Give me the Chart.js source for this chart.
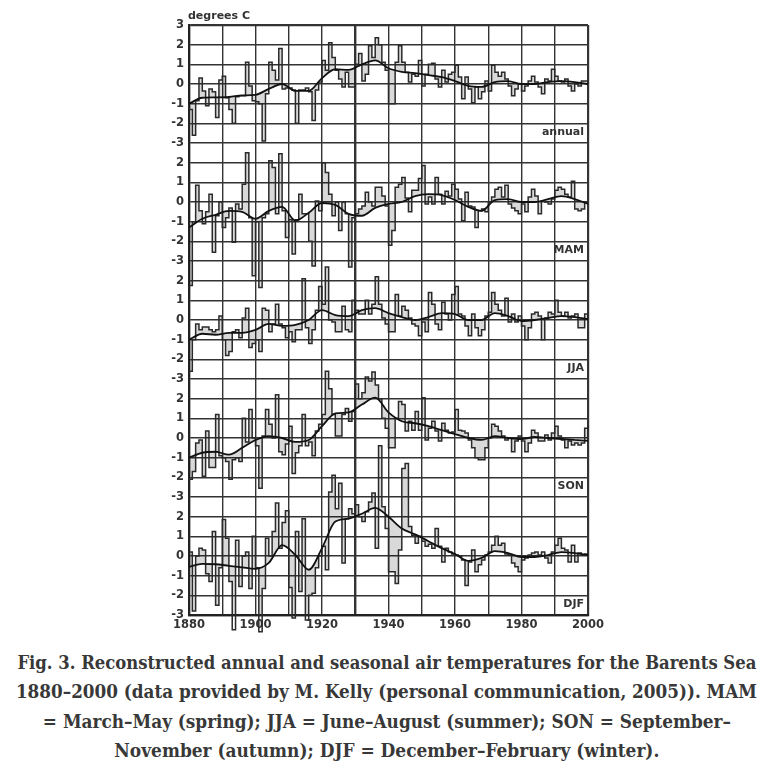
<!DOCTYPE html>
<html>
<head>
<meta charset="utf-8">
<script src="https://cdn.jsdelivr.net/npm/chart.js@4.4.1/dist/chart.umd.min.js"></script>
<style>
html,body{margin:0;padding:0;background:#fff;width:773px;height:768px;overflow:hidden;}
#wrap{position:absolute;left:0;top:0;width:773px;height:645px;}
.cap{position:absolute;left:0;width:773px;text-align:center;white-space:nowrap;
  font-family:"DejaVu Serif Condensed","DejaVu Serif",serif;font-weight:bold;font-size:18.5px;
  color:#383838;line-height:20px;}
.cap span{display:inline-block;transform-origin:50% 50%;}
</style>
</head>
<body>
<div id="wrap"><canvas id="c" width="773" height="645"></canvas></div>
<div class="cap" style="top:653px"><span data-w="739">Fig. 3. Reconstructed annual and seasonal air temperatures for the Barents Sea</span></div>
<div class="cap" style="top:682px"><span data-w="741">1880–2000 (data provided by M. Kelly (personal communication, 2005)). MAM</span></div>
<div class="cap" style="top:712px"><span data-w="688">= March–May (spring); JJA = June–August (summer); SON = September–</span></div>
<div class="cap" style="top:741px"><span data-w="545">November (autumn); DJF = December–February (winter).</span></div>
<script>
// ---------- data (yearly values 1880..2000, degrees C) ----------
const firstYear = 1880;
const smoothStepYears = 4;
const panelNames = ['annual', 'MAM', 'JJA', 'SON', 'DJF'];
const unitLabel = 'degrees C';
const xLabelYears = [1880, 1900, 1920, 1940, 1960, 1980, 2000];

const annual = [
  -1.3, -2.6, -0.85, 0.3, -0.35, -1.1, -0.25, -0.4, -1.7, 0.2,
  0.4, -0.7, -1.3, -2.0, -0.65, -0.6, -0.6, 1.1, -0.1, -0.85,
  -0.9, -1.0, -2.9, -0.5, 1.1, 0.7, 0.2, 1.8, -0.25, -0.2,
  -0.2, -0.3, -2.0, -0.3, -0.3, -0.2, -0.4, -1.85, -0.3, 0.1,
  1.2, 0.7, 2.1, 1.35, 0.7, 0.25, -0.15, 0.6, -0.15, -0.15,
  1.0, 1.55, 0.15, 0.5, 1.95, 1.35, 2.35, 2.0, 1.1, 0.7,
  -1.0, -1.0, 1.1, 1.95, 1.1, 0.6, 0.1, 0.5, 0.4, 1.2,
  -0.1, 0.5, 1.0, 1.05, 0.25, -0.15, 0.7, 0.1, 0.5, 0.6,
  0.95, 0.35, -0.75, 0.35, -0.25, -0.95, -0.15, -0.75, -0.4, 0.15,
  -0.35, 0.95, 0.6, 0.4, 0.6, 0.25, -0.1, -0.6, -0.25, 0.0,
  -0.35, -0.1, 0.15, 0.4, 0.1, -0.15, -0.5, 0.25, 0.15, 0.75,
  0.4, 0.15, 0.1, 0.25, -0.1, -0.35, 0.0, -0.1, 0.15, 0.15,
  0.1
];
const mam = [
  -4.25, -1.0, 0.85, -0.45, -1.1, -0.5, 0.4, -2.55, -0.7, 0.0,
  -1.3, -0.8, -0.3, -2.05, -0.1, -0.35, 0.9, 2.5, -0.8, -3.75,
  -1.0, -4.35, -0.8, -0.6, 2.1, 1.75, -0.6, 2.45, -0.45, -1.8,
  -0.9, -2.65, -0.9, 0.4, -0.6, -0.6, -2.0, -3.25, 0.05, -0.45,
  2.0, 1.5, 0.4, -0.7, 0.0, -1.45, 0.0, -0.6, -3.3, -0.8,
  -0.6, -0.35, -0.2, 0.5, 0.0, -0.2, 0.75, 0.75, 0.3, -0.2,
  -2.2, -1.45, 0.75, 0.9, 1.25, 0.2, -0.5, 0.6, 0.6, 1.2,
  1.85, -0.1, 0.25, -0.1, 1.25, 0.4, -0.1, 0.55, 0.3, 0.9,
  0.65, 0.15, -0.95, 0.5, -0.2, -0.25, -1.3, -0.45, -0.35, -0.5,
  0.0, 0.25, 0.65, 0.75, 0.25, 0.85, -0.1, -0.3, -0.45, -0.6,
  -0.1, -0.5, 0.25, 0.65, 0.3, -0.6, 0.05, 0.0, -0.1, 0.15,
  0.6, 0.75, 0.65, 0.4, 0.25, 1.05, -0.35, -0.45, -0.35, 0.0,
  0.0
];
const jja = [
  -2.6, -1.0, -0.2, -0.5, -0.35, -0.35, -0.5, -0.6, -0.5, 0.2,
  -1.0, -1.8, -1.6, -0.6, -0.5, -0.9, 0.1, 0.6, -1.4, -1.2,
  -1.0, -1.6, 0.6, 0.5, -0.6, -0.2, 0.8, -0.2, -0.4, -0.9,
  -0.6, -1.1, -0.5, -0.5, 2.1, -0.4, -1.2, -0.5, 0.5, 1.7,
  0.8, 2.7, 0.0, -0.1, -0.6, -0.6, 0.7, -0.5, -0.6, 1.0,
  0.5, 0.3, 0.3, 1.0, 0.3, 0.8, 2.2, 0.8, 0.1, -0.2,
  -0.6, -0.6, 1.3, 0.2, 0.7, 0.5, 0.1, -0.2, -0.3, -0.8,
  -0.1, -0.6, 1.4, 0.8, -0.2, -0.5, 0.9, 0.3, 0.0, 1.3,
  1.7, 0.3, 0.2, -0.3, -0.8, 0.3, -0.4, -0.8, -0.5, 0.2,
  0.4, 1.4, 0.8, 0.5, 0.2, 1.1, -0.1, 0.3, -0.1, 0.2,
  -0.3, -1.0, -0.4, 0.3, 0.4, 0.2, -1.0, 0.1, 0.4, 0.3,
  1.0, 0.4, 0.2, 0.4, 0.1, 0.2, 0.3, -0.4, -0.4, 0.3,
  0.1
];
const son = [
  -2.1, -1.7, -0.25, -0.1, -1.95, 0.35, -1.5, -1.5, 1.2, -0.9,
  -1.0, -1.2, -2.1, -1.1, -1.0, -1.2, 1.0, -0.2, 1.45, 0.0,
  -0.4, -2.55, 0.1, 1.45, 0.7, 0.0, 2.2, -0.7, -0.85, -0.3,
  0.6, -1.8, -0.75, -0.4, 1.2, -0.4, -0.2, -0.9, 0.35, 0.7,
  1.2, 3.4, 2.5, 1.2, 0.1, 0.1, 1.2, 1.5, 0.85, 1.35,
  2.75, 2.0, 2.3, 3.1, 2.9, 3.35, 2.7, 2.0, 1.0, 0.5,
  -0.5, -0.5, 1.0, 1.85, 1.7, 0.35, 0.85, 0.4, 1.35, 0.4,
  2.05, -0.1, 0.5, 0.85, 0.35, -0.15, 0.75, 0.4, 0.25, 0.3,
  1.45, 0.4, 0.35, 0.25, -0.1, -0.5, -1.0, -1.1, -1.1, -0.5,
  0.0, 0.7, 0.6, 0.35, 0.1, -0.1, 0.0, -0.7, -0.15, 0.1,
  -0.15, -0.7, -0.25, 0.4, 0.25, -0.15, -0.15, 0.15, -0.1, 0.25,
  0.6, 0.1, -0.1, -0.5, -0.15, -0.35, -0.25, -0.35, -0.25, 0.5,
  0.6
];
const djf = [
  0.2, -2.8, 0.0, 0.4, 0.3, -0.9, -1.3, 1.25, -2.5, -0.6,
  1.85, 0.9, -1.3, -3.75, 0.8, -1.55, 0.0, 0.2, -1.65, 1.0,
  -0.6, -3.85, -1.65, 0.9, 0.0, 1.25, 2.7, 0.4, 1.7, 2.3,
  -1.6, -3.15, 1.25, -1.8, 1.9, -3.25, -2.0, -1.9, -0.6, 0.0,
  0.5, -0.7, 3.25, 4.1, 2.4, 3.7, -0.35, 1.9, 2.4, 2.15,
  2.6, 2.0, 1.75, 2.25, 2.75, 3.2, 0.4, 5.6, 2.5, 1.4,
  -0.8, -0.8, -1.4, 0.3, 4.45, 4.7, 1.5, 1.05, 0.65, 1.0,
  0.75, 0.5, 0.6, 0.4, 1.4, 0.5, -0.3, 0.4, 0.2, 0.1,
  0.05, 0.0, -0.2, -1.5, -0.3, 0.3, -0.8, -0.45, -0.2, 0.05,
  0.2, 0.55, 1.0, 0.55, 0.65, 0.1, 0.05, -0.35, -0.55, -0.8,
  -0.2, -0.1, 0.05, 0.15, 0.2, 0.05, 0.2, -0.1, -0.35, 0.2,
  0.55, 0.9, 0.4, 0.3, -0.3, 0.55, -0.3, 0.15, 0.05, 0.1,
  0.05
];

// smoothed curves, one value every 4 years (1880, 1884, ..., 2000)
const annualSmooth = [-1.0, -0.7, -0.68, -0.66, -0.58, -0.55, -0.25, 0.0, -0.35, -0.35,
  0.3, 0.75, 0.72, 1.0, 1.2, 0.8, 0.62, 0.55, 0.45, 0.35,
  0.15, -0.1, -0.15, 0.1, 0.15, 0.0, 0.0, 0.1, 0.15, 0.1, 0.0];
const mamSmooth = [-1.3, -0.85, -0.65, -0.45, -0.5, -0.85, -0.45, -0.25, -0.95, -0.55,
  -0.05, -0.15, -0.6, -0.7, -0.3, -0.1, 0.0, 0.3, 0.4, 0.35,
  0.1, -0.25, -0.45, 0.1, 0.15, 0.0, 0.0, 0.15, 0.3, 0.15, -0.1];
const jjaSmooth = [-1.0, -0.7, -0.75, -0.65, -0.65, -0.5, -0.2, -0.3, -0.25, 0.0,
  0.5, 0.25, 0.2, 0.5, 0.6, 0.35, 0.15, 0.0, 0.15, 0.35,
  0.3, 0.0, 0.0, 0.35, 0.2, -0.05, 0.0, 0.1, 0.2, 0.15, 0.05];
const sonSmooth = [-1.0, -0.75, -0.7, -0.85, -0.5, -0.1, 0.1, 0.0, -0.2, -0.1,
  0.6, 1.25, 1.3, 1.7, 2.05, 1.3, 0.85, 0.75, 0.6, 0.4,
  0.2, 0.0, -0.1, 0.1, 0.0, -0.05, 0.05, 0.0, -0.05, -0.1, -0.15];
const djfSmooth = [-0.55, -0.4, -0.42, -0.5, -0.58, -0.65, -0.35, 0.55, 0.05, -0.7,
  0.4, 1.75, 1.9, 2.15, 2.45, 2.0, 1.4, 1.1, 0.75, 0.4,
  0.1, -0.25, -0.1, 0.25, 0.15, -0.05, -0.05, 0.05, 0.2, 0.15, 0.05];

// ---------- chart ----------
const series = [annual, mam, jja, son, djf];
const smooths = [annualSmooth, mamSmooth, jjaSmooth, sonSmooth, djfSmooth];
const panelSpan = 6;          // each panel shows -3..3
const gridColor = '#333';

const datasets = [];
series.forEach((vals, i) => {
  const off = -panelSpan * i;
  datasets.push({
    label: panelNames[i] + ' smoothed',
    data: smooths[i].map((v, k) => ({x: firstYear + smoothStepYears * k, y: v + off})),
    borderColor: '#111',
    borderWidth: 1.8,
    pointRadius: 0,
    cubicInterpolationMode: 'monotone',
    fill: false,
    clip: false
  });
  datasets.push({
    label: panelNames[i],
    data: vals.map((v, k) => ({x: firstYear + k, y: v + off})),
    stepped: 'before',
    borderColor: '#2a2a2a',
    borderWidth: 1.5,
    pointRadius: 0,
    backgroundColor: 'rgba(0,0,0,0.15)',
    fill: 2 * i,
    clip: false
  });
});

const labelsPlugin = {
  id: 'panelLabels',
  afterDraw(chart) {
    const {ctx, chartArea, scales} = chart;
    const y = scales.y;
    ctx.save();
    ctx.font = 'bold 11px "DejaVu Sans"';
    ctx.fillStyle = '#333';
    ctx.textBaseline = 'middle';
    ctx.textAlign = 'right';
    panelNames.forEach((n, i) => {
      ctx.fillText(n, chartArea.right - 4, y.getPixelForValue(-panelSpan * i - 2.45));
    });
    ctx.textAlign = 'left';
    ctx.fillText(unitLabel, chartArea.left - 1, y.getPixelForValue(3) - 9);
    ctx.restore();
  }
};

const edgeW = (v, a, b) => (v === a || v === b) ? 2.2 : 1.4;

new Chart(document.getElementById('c'), {
  type: 'line',
  data: {datasets},
  options: {
    responsive: false,
    animation: false,
    events: [],
    layout: {padding: {left: 149, right: 185, top: 25, bottom: 0}},
    plugins: {legend: {display: false}, tooltip: {enabled: false}},
    scales: {
      x: {
        type: 'linear', min: 1880, max: 2000,
        afterFit(s) { s.height = 30; },
        ticks: {
          stepSize: 10, autoSkip: false, padding: 3, color: '#333',
          font: {family: 'DejaVu Sans', weight: 'bold', size: 11.5},
          maxRotation: 0,
          callback: v => xLabelYears.includes(v) ? String(v) : ''
        },
        grid: {
          color: gridColor, drawTicks: false,
          lineWidth: c => c.tick ? (c.tick.value === 1930 ? 2.4 : edgeW(c.tick.value, 1880, 2000)) : 1.4
        },
        border: {display: true, color: '#222', width: 2.2}
      },
      y: {
        type: 'linear', min: -27, max: 3,
        afterFit(s) { s.width = 40; },
        ticks: {
          stepSize: 1, autoSkip: false, padding: 5, color: '#333',
          font: {family: 'DejaVu Sans', weight: 'bold', size: 11.5},
          callback: v => {
            const r = Math.round(v);
            if (r === 3) return '3';
            return String((((r + 3) % panelSpan) + panelSpan) % panelSpan - 3);
          }
        },
        grid: {
          color: gridColor, drawTicks: false,
          lineWidth: c => c.tick ? edgeW(Math.round(c.tick.value), 3, -27) : 1.4
        },
        border: {display: true, color: '#222', width: 2.2}
      }
    }
  },
  plugins: [labelsPlugin]
});

// fit caption lines to their measured widths
document.querySelectorAll('.cap span').forEach(s => {
  const w = s.getBoundingClientRect().width;
  if (w > 0) s.style.transform = 'scaleX(' + (Number(s.dataset.w) / w) + ')';
});
</script>
</body>
</html>
